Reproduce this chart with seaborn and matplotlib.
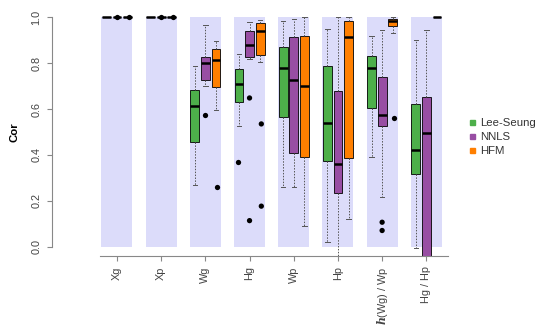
import pandas as pd
import numpy as np
import matplotlib
matplotlib.use('Agg')
import matplotlib.pyplot as plt
from matplotlib.lines import Line2D
import seaborn as sns

# categories on the x axis
categories = ['Xg', 'Xp', 'Wg', 'Hg', 'Wp', 'Hp', r'$\mathbfit{h}$(Wg) / Wp', 'Hg / Hp']
methods = ['Lee-Seung', 'NNLS', 'HFM']
colors = ['#4DAF4A', '#984EA3', '#FF7F00']

# five-number summaries per category: whisker low, q1, median, q3, whisker high
lee_seung = [
    [1.0, 1.0, 1.0, 1.0, 1.0],
    [1.0, 1.0, 1.0, 1.0, 1.0],
    [0.267, 0.455, 0.613, 0.683, 0.787],
    [0.525, 0.629, 0.707, 0.774, 0.840],
    [0.259, 0.567, 0.780, 0.868, 0.984],
    [0.023, 0.375, 0.539, 0.787, 0.948],
    [0.393, 0.606, 0.777, 0.830, 0.917],
    [-0.006, 0.317, 0.422, 0.620, 0.900],
]
nnls = [
    [1.0, 1.0, 1.0, 1.0, 1.0],
    [1.0, 1.0, 1.0, 1.0, 1.0],
    [0.700, 0.726, 0.799, 0.827, 0.965],
    [0.816, 0.825, 0.877, 0.938, 0.977],
    [0.262, 0.410, 0.725, 0.912, 0.991],
    [-0.06, 0.236, 0.361, 0.680, 0.999],
    [0.219, 0.525, 0.574, 0.741, 0.943],
    [-0.35, -0.12, 0.497, 0.651, 0.943],
]
hfm = [
    [1.0, 1.0, 1.0, 1.0, 1.0],
    [1.0, 1.0, 1.0, 1.0, 1.0],
    [0.594, 0.697, 0.814, 0.861, 0.894],
    [0.803, 0.835, 0.941, 0.973, 0.987],
    [0.091, 0.390, 0.700, 0.917, 0.999],
    [0.120, 0.388, 0.914, 0.984, 0.999],
    [0.929, 0.961, 0.984, 0.990, 0.999],
    [1.0, 1.0, 1.0, 1.0, 1.0],
]

# outliers: (category index, method, value)
outliers = [
    (0, 'NNLS', 1.0), (0, 'HFM', 1.0),
    (1, 'NNLS', 1.0), (1, 'HFM', 1.0),
    (2, 'NNLS', 0.574), (2, 'HFM', 0.262),
    (3, 'Lee-Seung', 0.371), (3, 'NNLS', 0.648), (3, 'NNLS', 0.114),
    (3, 'HFM', 0.535), (3, 'HFM', 0.177),
    (6, 'NNLS', 0.107), (6, 'NNLS', 0.071), (6, 'HFM', 0.562),
]

panel_top = [1.0] * len(categories)

rows = []
for m, summ in zip(methods, [lee_seung, nnls, hfm]):
    for cat, vals in zip(categories, summ):
        for v in vals:
            rows.append({'cat': cat, 'method': m, 'cor': v})
df = pd.DataFrame(rows)
out_df = pd.DataFrame([{'cat': categories[i], 'method': m, 'cor': v} for i, m, v in outliers])

plt.rcParams['font.family'] = ['Liberation Sans', 'DejaVu Sans']
plt.rcParams['mathtext.fontset'] = 'dejavuserif'

fig = plt.figure(figsize=(5.5, 3.31), dpi=100)
ax = fig.add_axes([0.0945, 0.2266, 0.72, 0.7494])

# lavender panels behind each group
sns.barplot(x=categories, y=panel_top, order=categories, color='#DCDCFA',
            width=0.7, saturation=1, ax=ax, zorder=0)

sns.boxplot(data=df, x='cat', y='cor', hue='method', order=categories,
            hue_order=methods, palette=colors, saturation=1, whis=(0, 100),
            width=0.72, gap=0.17, linecolor='black', linewidth=0.6,
            showfliers=False, ax=ax,
            medianprops=dict(color='black', linewidth=1.8),
            whiskerprops=dict(color='#555555', linewidth=0.7, linestyle=(0, (1.5, 1.5))),
            capprops=dict(color='#555555', linewidth=0.7))

sns.stripplot(data=out_df, x='cat', y='cor', hue='method', order=categories,
              hue_order=methods, palette=['black'] * 3, dodge=True, jitter=False,
              size=3.8, ax=ax, legend=False)

if ax.get_legend() is not None:
    ax.get_legend().remove()

ax.set_xlim(-1.47, 7.49)
ax.set_ylim(-0.04, 1.04)
ax.set_xlabel('')
ax.set_ylabel('Cor', fontweight='bold', fontsize=8.2, labelpad=9)
ax.set_yticks([0, 0.2, 0.4, 0.6, 0.8, 1.0])
ax.set_yticklabels(['0.0', '0.2', '0.4', '0.6', '0.8', '1.0'])
for lbl in ax.get_yticklabels():
    lbl.set_rotation(90)
    lbl.set_va('center')
ax.set_xticks(range(len(categories)))
ax.set_xticklabels(categories, rotation=90)

ax.set_facecolor('white')
for s in ['top', 'right']:
    ax.spines[s].set_visible(False)
ax.spines['left'].set_bounds(0, 1)
ax.spines['bottom'].set_bounds(-0.385, 7.49)
for s in ['left', 'bottom']:
    ax.spines[s].set_color('#888888')
    ax.spines[s].set_linewidth(0.8)
ax.tick_params(axis='both', colors='#888888', length=3.5, width=0.8,
               labelsize=7.8, labelcolor='#444444', pad=4)

handles = [Line2D([], [], marker='s', linestyle='', color=c, markersize=3.6) for c in colors]
leg = fig.legend(handles, methods, loc='center left', bbox_to_anchor=(0.83, 0.586),
                 frameon=False, fontsize=8.2, handletextpad=0.2, labelspacing=0.35,
                 handlelength=1.0)
for t in leg.get_texts():
    t.set_color('#333333')

fig.savefig('out.png', dpi=100)
